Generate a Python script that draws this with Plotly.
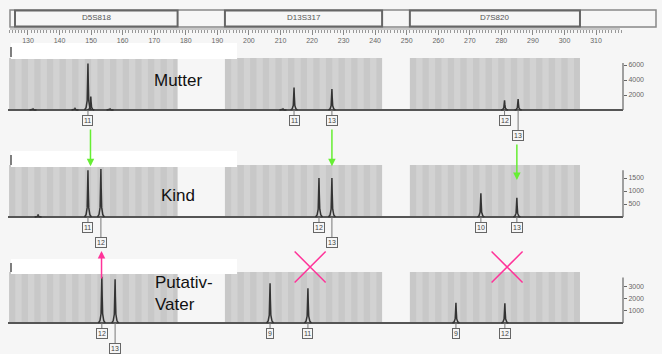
import plotly.graph_objects as go

# ---------------- data ----------------
ruler_ticks = list(range(130, 320, 10))
ruler_minor = list(range(124, 319, 1))

locus_names = ["D5S818", "D13S317", "D7S820"]
locus_start = [124.0, 192.4, 251.0]
locus_end = [177.4, 242.2, 304.9]

panel_names = ["Mutter", "Kind", "Putativ-<br>Vater"]

mutter_alleles = ["11", "11", "13", "12", "13"]
mutter_bp = [149.0, 214.3, 226.3, 281.0, 285.3]
mutter_rfu = [6200, 3000, 2800, 1300, 1450]
mutter_label_row = [0, 0, 0, 0, 1]
mutter_minor_bp = [131.6, 144.9, 149.9, 156.0, 210.8]
mutter_minor_rfu = [150, 200, 1800, 150, 150]

kind_alleles = ["11", "12", "12", "13", "10", "13"]
kind_bp = [149.0, 153.1, 222.2, 226.3, 273.5, 284.9]
kind_rfu = [1800, 1850, 1500, 1500, 910, 740]
kind_label_row = [0, 1, 0, 1, 0, 0]
kind_minor_bp = [133.2]
kind_minor_rfu = [100]

vater_alleles = ["12", "13", "9", "11", "9", "12"]
vater_bp = [153.4, 157.6, 206.7, 218.7, 265.6, 281.1]
vater_rfu = [3760, 3550, 3230, 2820, 1650, 1600]
vater_label_row = [0, 1, 0, 0, 0, 0]
vater_minor_bp = []
vater_minor_rfu = []

mutter_ticks = [2000, 4000, 6000]
kind_ticks = [500, 1000, 1500]
vater_ticks = [1000, 2000, 3000]

inherit_bp = [149.8, 226.3, 284.9]        # maternal alleles -> child (green)
inherit_head_rfu = [1950, 1950, 1420]      # arrow tip in child panel
inherit_from_row = [0, 0, 1]
paternal_bp = [153.3]                      # paternal allele -> child (magenta)
exclusion_bp = [219.4, 281.8]              # loci excluding the putative father

# ---------------- geometry / style ----------------
W, H = 662, 354
PX_PER_BP = 3.156
X0 = 121.13
X1 = X0 + W / PX_PER_BP


def bp_at(px):
    return X0 + px / PX_PER_BP


def py2paper(py):
    return 1 - py / H


PANELS = [
    dict(base=110, ppk=7.5, top=58, white=(43, 59), axtop=6250, yref="y"),
    dict(base=217, ppk=26.0, top=165, white=(151, 167), axtop=1800, yref="y2"),
    dict(base=323, ppk=12.3, top=272, white=(259, 274), axtop=3700, yref="y3"),
]


def yrange(p):
    return [-(H - p["base"]) / p["ppk"] * 1000, p["base"] / p["ppk"] * 1000]


def rfu_at(p, py):
    return (p["base"] - py) / p["ppk"] * 1000


FONT = "Arial, Liberation Sans, sans-serif"
AX_BP = bp_at(623)
BASE_START = bp_at(8)
GREEN = "#66ee33"
MAGENTA = "#ff3399"

SHAPE_DX = [-1.1, -0.6, -0.25, -0.1, 0, 0.1, 0.25, 0.6, 1.1]
SHAPE_FY = [0, 0.05, 0.2, 0.6, 1, 0.6, 0.2, 0.05, 0]


def peaks_xy(bps, rfus):
    xs, ys = [], []
    for b, h in zip(bps, rfus):
        xs += [b + d for d in SHAPE_DX] + [None]
        ys += [h * f for f in SHAPE_FY] + [None]
    return xs, ys


panel_data = [
    (mutter_alleles, mutter_bp, mutter_rfu, mutter_label_row, mutter_minor_bp, mutter_minor_rfu, mutter_ticks),
    (kind_alleles, kind_bp, kind_rfu, kind_label_row, kind_minor_bp, kind_minor_rfu, kind_ticks),
    (vater_alleles, vater_bp, vater_rfu, vater_label_row, vater_minor_bp, vater_minor_rfu, vater_ticks),
]

fig = go.Figure()
shapes = []
annotations = []

# header boxes
shapes.append(dict(type="rect", xref="x", yref="paper", x0=bp_at(10), x1=bp_at(656),
                   y0=py2paper(27), y1=py2paper(10), line=dict(color="#888", width=1.5),
                   fillcolor="rgba(0,0,0,0)", layer="below"))
for name, s, e in zip(locus_names, locus_start, locus_end):
    shapes.append(dict(type="rect", xref="x", yref="paper", x0=max(s, bp_at(15)), x1=e,
                       y0=py2paper(26.5), y1=py2paper(10.5), line=dict(color="#666", width=2),
                       fillcolor="rgba(0,0,0,0)", layer="below"))
    annotations.append(dict(x=(max(s, bp_at(15)) + e) / 2, y=py2paper(17.5), xref="x", yref="paper",
                            text=name, showarrow=False, yanchor="middle",
                            font=dict(size=8, color="#555", family=FONT)))
# ruler line
shapes.append(dict(type="line", xref="x", yref="paper", x0=bp_at(10), x1=bp_at(620),
                   y0=py2paper(29), y1=py2paper(29), line=dict(color="#999", width=1)))

for i, p in enumerate(PANELS):
    alleles, bps, rfus, rows, mbp, mrfu, ticks = panel_data[i]
    yr = p["yref"]
    # gray bin regions
    for s, e in zip(locus_start, locus_end):
        shapes.append(dict(type="rect", xref="x", yref="paper", x0=s, x1=e,
                           y0=py2paper(p["base"]), y1=py2paper(p["top"]),
                           fillcolor="#c8c8c8", line=dict(width=0), layer="below"))
        b = s + 2
        while b < e:
            shapes.append(dict(type="rect", xref="x", yref="paper", x0=b, x1=min(b + 2, e),
                               y0=py2paper(p["base"]), y1=py2paper(p["top"]),
                               fillcolor="#d2d2d2", line=dict(width=0), layer="below"))
            b += 4
    # white label bar
    shapes.append(dict(type="rect", xref="x", yref="paper", x0=bp_at(11), x1=bp_at(237),
                       y0=py2paper(p["white"][1]), y1=py2paper(p["white"][0]),
                       fillcolor="#ffffff", line=dict(width=0), layer="below"))
    shapes.append(dict(type="line", xref="x", yref="paper", x0=bp_at(11), x1=bp_at(11),
                       y0=py2paper(p["white"][1] - 2), y1=py2paper(p["white"][0] + 4),
                       line=dict(color="#555", width=1.5)))

    # baseline
    fig.add_trace(go.Scatter(x=[BASE_START, AX_BP], y=[0, 0], mode="lines", yaxis=yr,
                             line=dict(color="#555", width=2), hoverinfo="skip"))
    # peaks
    xs, ys = peaks_xy(list(bps) + list(mbp), list(rfus) + list(mrfu))
    fig.add_trace(go.Scatter(x=xs, y=ys, mode="lines", yaxis=yr, connectgaps=False,
                             line=dict(color="#333", width=1.5), hoverinfo="skip"))
    # right axis line
    fig.add_trace(go.Scatter(x=[AX_BP, AX_BP], y=[0, p["axtop"]], mode="lines", yaxis=yr,
                             line=dict(color="#666", width=1.2), hoverinfo="skip"))
    # allele labels
    for a, b, r in zip(alleles, bps, rows):
        annotations.append(dict(x=b, y=0, xref="x", yref=yr, text=a, showarrow=True,
                                arrowhead=0, arrowwidth=1, arrowcolor="#777", ax=0, ay=10 + 15 * r,
                                font=dict(size=7, color="#444", family=FONT),
                                bordercolor="#666", borderwidth=1, borderpad=1, bgcolor="#f6f6f6"))

# panel titles
annotations.append(dict(x=bp_at(178), y=rfu_at(PANELS[0], 80), xref="x", yref="y", text=panel_names[0],
                        showarrow=False, font=dict(size=17, color="#111", family=FONT)))
annotations.append(dict(x=bp_at(178), y=rfu_at(PANELS[1], 195.5), xref="x", yref="y2", text=panel_names[1],
                        showarrow=False, font=dict(size=17, color="#111", family=FONT)))
annotations.append(dict(x=bp_at(153), y=rfu_at(PANELS[2], 293), xref="x", yref="y3", text=panel_names[2],
                        showarrow=False, xanchor="left", align="left",
                        font=dict(size=17, color="#111", family=FONT)))

# inheritance arrows (mother -> child)
for b, h, r in zip(inherit_bp, inherit_head_rfu, inherit_from_row):
    tail_py = PANELS[0]["base"] + 18 + 15 * r
    head_py = PANELS[1]["base"] - h / 1000 * PANELS[1]["ppk"]
    annotations.append(dict(x=b, y=h, xref="x", yref="y2", text="", showarrow=True,
                            arrowhead=2, arrowsize=1, arrowwidth=1.5, arrowcolor=GREEN,
                            ax=0, ay=-(head_py - tail_py)))
# paternal arrow (father -> child, pointing up)
for b in paternal_bp:
    annotations.append(dict(x=b, y=rfu_at(PANELS[2], 251), xref="x", yref="y3", text="", showarrow=True,
                            arrowhead=2, arrowsize=1, arrowwidth=1.5, arrowcolor=MAGENTA,
                            ax=0, ay=29))

# exclusion crosses
fig.add_trace(go.Scatter(x=exclusion_bp, y=[rfu_at(PANELS[2], 267)] * len(exclusion_bp), mode="markers",
                         yaxis="y3", marker=dict(symbol="x-thin", size=31, color=MAGENTA,
                                                 line=dict(color=MAGENTA, width=1.5)),
                         hoverinfo="skip"))


def yax(p, ticks, overlay=None):
    d = dict(range=yrange(p), domain=[0, 1], anchor="free", position=623 / W, side="right",
             tickmode="array", tickvals=ticks, ticks="outside", ticklen=3, tickcolor="#666",
             tickfont=dict(size=7, color="#666", family=FONT), showgrid=False, zeroline=False,
             showline=False, fixedrange=True)
    if overlay:
        d["overlaying"] = overlay
    return d


fig.update_layout(
    width=W, height=H, margin=dict(l=0, r=0, t=0, b=0),
    paper_bgcolor="#f6f6f6", plot_bgcolor="rgba(0,0,0,0)", showlegend=False,
    xaxis=dict(range=[X0, X1], domain=[0, 1], anchor="free", position=py2paper(29), side="bottom",
               tickmode="array", tickvals=ruler_ticks, ticks="outside", ticklen=5, tickwidth=1,
               tickcolor="#888", tickfont=dict(size=7, color="#666", family=FONT),
               minor=dict(tickmode="array", tickvals=ruler_minor, ticks="outside", ticklen=3,
                          tickcolor="#999"),
               showgrid=False, zeroline=False, showline=False, fixedrange=True),
    yaxis=yax(PANELS[0], mutter_ticks),
    yaxis2=yax(PANELS[1], kind_ticks, "y"),
    yaxis3=yax(PANELS[2], vater_ticks, "y"),
    shapes=shapes,
    annotations=annotations,
)

fig.write_html("out.html", config={"displayModeBar": False},
               post_script="document.body.style.margin='0';document.body.style.overflow='hidden';")
